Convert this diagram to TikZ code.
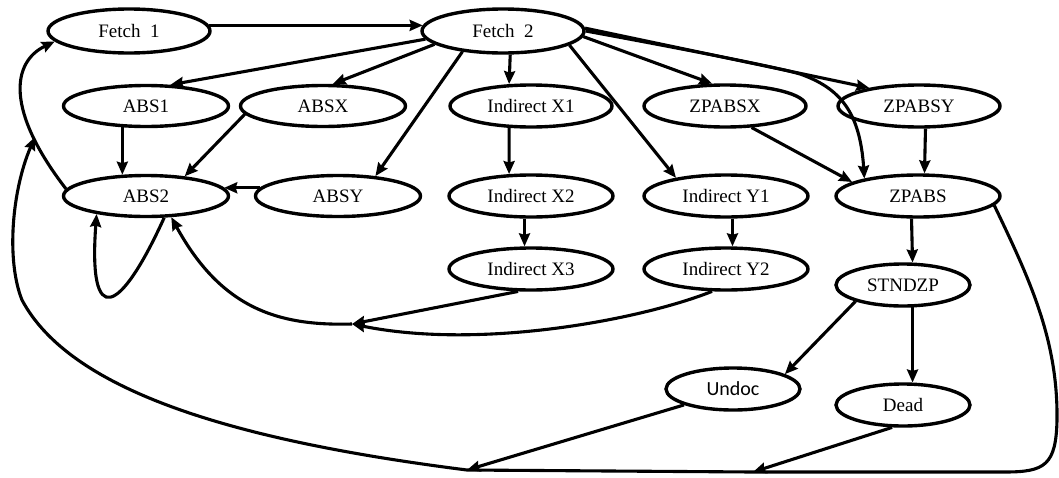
\documentclass[tikz,border=0pt]{standalone}
\usepackage{fontspec}
\setmainfont{Liberation Serif}
\newfontfamily\undocfont{Carlito}
\usetikzlibrary{shapes.geometric,arrows.meta}
\begin{document}
\begin{tikzpicture}[x=1pt,y=-1pt,
  st/.style={draw,ellipse,line width=3.4pt,inner sep=0pt,minimum width=162pt,minimum height=42pt,font=\fontsize{19}{19}\selectfont},
  sm/.style={st,minimum width=134pt},
  ed/.style={line width=3.1pt,-{Stealth[length=13pt,width=11pt,inset=1.5pt]}},
  pl/.style={line width=3.1pt}]
\useasboundingbox (0,0) rectangle (1059,477);
% nodes
\node[st,minimum height=44pt] (F1) at (129,31) {Fetch\ \ 1};
\node[st,minimum height=44pt] (F2) at (503,31) {Fetch\ \ 2};
\node[st,minimum width=165pt,minimum height=41pt] (A1) at (146,106) {ABS1};
\node[st,minimum width=165pt,minimum height=41pt] (AX) at (323,106) {ABSX};
\node[st] (X1) at (531,106) {Indirect X1};
\node[st] (ZX) at (725,106) {ZPABSX};
\node[st] (ZY) at (919,106) {ZPABSY};
\node[st,minimum width=165pt,minimum height=41pt] (A2) at (146,196) {ABS2};
\node[st,minimum width=165pt,minimum height=41pt] (AY) at (338,196) {ABSY};
\node[st,minimum width=164pt] (X2) at (531,196) {Indirect X2};
\node[st,minimum width=164pt] (Y1) at (726,196) {Indirect Y1};
\node[st,minimum width=164pt] (Z) at (918,196) {ZPABS};
\node[st,minimum width=164pt] (X3) at (531,269) {Indirect X3};
\node[st,minimum width=164pt] (Y2) at (726,269) {Indirect Y2};
\node[sm] (S) at (903,285) {STNDZP};
\node[sm,font=\undocfont\fontsize{20}{20}\selectfont] (U) at (733,389) {Undoc};
\node[sm] (D) at (903,405) {Dead};
% junctions
\coordinate (j1) at (352,324);
\coordinate (jL) at (467,470);
\coordinate (jR) at (753,472);
\coordinate (jT) at (35,137);
% edges
\draw[ed] (F1.4) -- (F2.176);
\draw[ed] (F2.186) -- (A1.41);
\draw[ed] (F2.191) -- (AX.66);
\draw[ed] (F2.207) -- (AY.28);
\draw[ed] (F2.-73) -- (X1.135);
\draw[ed] (F2.-12) -- (Y1.160);
\draw[ed] (F2.-4) -- (ZX.120);
\draw[ed] (F2.2) -- (ZY.160);
\draw[ed] (F2.0) .. controls (700,52) and (780,68) .. (800,74) .. controls (840,88) and (860,112) .. (Z.162);
\draw[ed] (A1.-138) -- (A2.138);
\draw[ed] (AX.186) -- (A2.27);
\draw[ed] (AY.174) -- (A2.6);
\draw[ed] (A2.175) .. controls (5,110) and (12,62) .. (F1.188);
\draw[ed] (A2.-50) .. controls (120,315) and (88,330) .. (A2.-160);
\draw[ed] (X1.-135) -- (X2.135);
\draw[ed] (X2.-106) -- (X3.106);
\draw[ed] (Y1.-74) -- (Y2.74);
\draw[ed] (ZX.-39) -- (Z.168);
\draw[ed] (ZY.-74) -- (Z.74);
\draw[ed] (X3.-120) -- (j1);
\draw[ed] (Y2.-122) .. controls (640,320) and (480,350) .. (j1);
\draw[ed] (j1) .. controls (280,326) and (222,310) .. (A2.-40);
\draw[ed] (Z.-106) -- (S.67);
\draw[ed] (S.-161) -- (U.16);
\draw[ed] (S.-67) -- (D.67);
\draw[ed] (U.-162) -- (jL);
\draw[ed] (D.-116) -- (jR);
\draw[ed] (Z.-7) .. controls (1030,280) and (1058,340) .. (1057,420)
   .. controls (1056,465) and (1045,472) .. (1005,472) -- (jR) -- (jL)
   .. controls (230,440) and (70,390) .. (22,300)
   .. controls (6,260) and (12,190) .. (jT);
\end{tikzpicture}
\end{document}
